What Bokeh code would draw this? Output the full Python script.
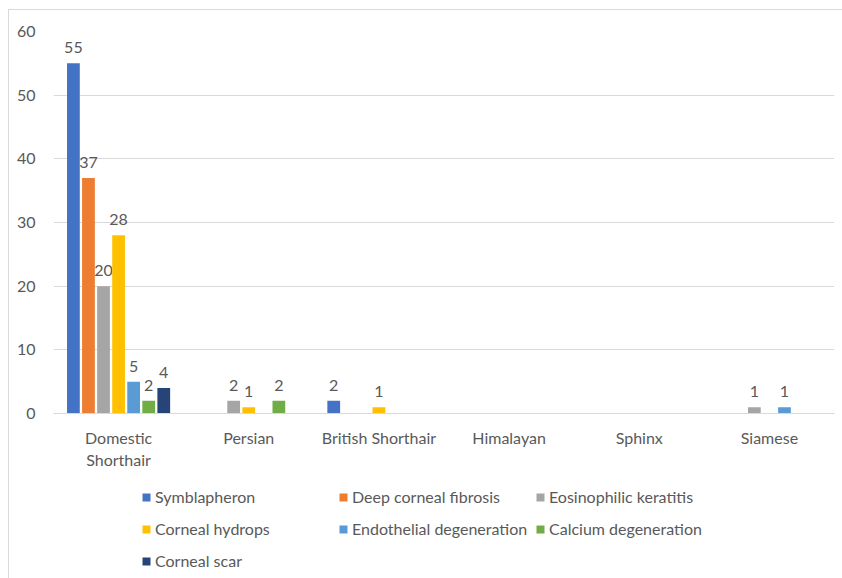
from bokeh.plotting import figure
from bokeh.layouts import column
from bokeh.models import ColumnDataSource, FactorRange, Legend, LegendItem, Range1d, FixedTicker
from bokeh.transform import dodge
from bokeh.core.properties import value
from bokeh.embed import file_html
from bokeh.resources import INLINE

# Breeds on the x axis (tick labels, with the line break used on the axis)
breeds = ["Domestic\nShorthair", "Persian", "British Shorthair", "Himalayan", "Sphinx", "Siamese"]

# Number of cases per corneal condition, one list per condition (same order as breeds)
symblapheron = [55, 0, 2, 0, 0, 0]
deep_corneal_fibrosis = [37, 0, 0, 0, 0, 0]
eosinophilic_keratitis = [20, 2, 0, 0, 0, 1]
corneal_hydrops = [28, 1, 1, 0, 0, 0]
endothelial_degeneration = [5, 0, 0, 0, 0, 1]
calcium_degeneration = [2, 2, 0, 0, 0, 0]
corneal_scar = [4, 0, 0, 0, 0, 0]

series_names = ["Symblapheron", "Deep corneal fibrosis", "Eosinophilic keratitis",
                "Corneal hydrops", "Endothelial degeneration", "Calcium degeneration",
                "Corneal scar"]
series_values = [symblapheron, deep_corneal_fibrosis, eosinophilic_keratitis,
                 corneal_hydrops, endothelial_degeneration, calcium_degeneration,
                 corneal_scar]
colors = ["#4472C4", "#ED7D31", "#A5A5A5", "#FFC000", "#5B9BD5", "#70AD47", "#264478"]

y_ticks = [0, 10, 20, 30, 40, 50, 60]

FONT = "Lato"
FS = "16px"
TEXT = "#595959"
GRID = "#D9D9D9"
BORDER = "1px solid #D9D9D9"

# ---- main bar chart ----
p = figure(x_range=FactorRange(*breeds, range_padding=0), y_range=Range1d(0, 60),
           width=834, height=462, output_backend="svg", toolbar_location=None,
           min_border_left=44, min_border_right=9, min_border_top=21, min_border_bottom=58)
p.margin = (9, 0, 0, 8)
p.styles = {"border-top": BORDER, "border-left": BORDER}
p.outline_line_color = None
p.background_fill_color = "white"
p.border_fill_color = "white"

step = 0.1157
bar_w = 0.098
for i, (vals, col) in enumerate(zip(series_values, colors)):
    off = (i - 3) * step
    src = ColumnDataSource(dict(breed=breeds, count=vals))
    p.vbar(x=dodge("breed", off, range=p.x_range), top="count", width=bar_w,
           source=src, fill_color=col, line_color=None)
    # value labels only for non-empty bars
    nz = [(b, v) for b, v in zip(breeds, vals) if v > 0]
    lab = ColumnDataSource(dict(breed=[b for b, _ in nz], count=[v for _, v in nz],
                                txt=[str(v) for _, v in nz]))
    p.text(x=dodge("breed", off, range=p.x_range), y="count", text="txt", source=lab,
           text_align="center", text_baseline="bottom", y_offset=-10,
           text_font=value(FONT), text_font_size=FS, text_color=TEXT)

# y axis
p.yaxis.ticker = FixedTicker(ticks=y_ticks)
p.yaxis.axis_line_color = None
p.yaxis.major_tick_line_color = None
p.yaxis.minor_tick_line_color = None
p.yaxis.major_label_text_font = FONT
p.yaxis.major_label_text_font_size = FS
p.yaxis.major_label_text_color = TEXT
p.yaxis.major_label_standoff = 12
p.ygrid.grid_line_color = GRID
p.xgrid.grid_line_color = None

# x axis
p.xaxis.axis_line_color = GRID
p.xaxis.major_tick_line_color = None
p.xaxis.minor_tick_line_color = None
p.xaxis.major_label_text_font = FONT
p.xaxis.major_label_text_font_size = FS
p.xaxis.major_label_text_color = TEXT
p.xaxis.major_label_standoff = 8

# ---- legend strip underneath ----
lg = figure(width=834, height=107, x_range=Range1d(0, 1), y_range=Range1d(0, 1),
            x_axis_location=None, y_axis_location=None,
            output_backend="svg", toolbar_location=None, min_border=0)
lg.margin = (0, 0, 0, 8)
lg.styles = {"border-left": BORDER}
lg.grid.visible = False
lg.outline_line_color = None

items = []
for name, col in zip(series_names, colors):
    # zero-height bar: only its swatch shows in the legend
    r = lg.vbar(x=[0], top=[0], bottom=[0], width=0.01, fill_color=col, line_color=None)
    items.append(LegendItem(label=name, renderers=[r]))

legend = Legend(items=items, ncols=3, orientation="horizontal",
                location=(88, 4), margin=0, padding=0, spacing=5,
                glyph_width=10, glyph_height=10, label_standoff=4,
                label_width=178, label_height=27,
                label_text_font=FONT, label_text_font_size=FS,
                label_text_color=TEXT, border_line_color=None,
                background_fill_alpha=0)
lg.add_layout(legend, "center")

layout = column(p, lg, spacing=0)
open("out.html", "w").write(file_html(layout, INLINE))
